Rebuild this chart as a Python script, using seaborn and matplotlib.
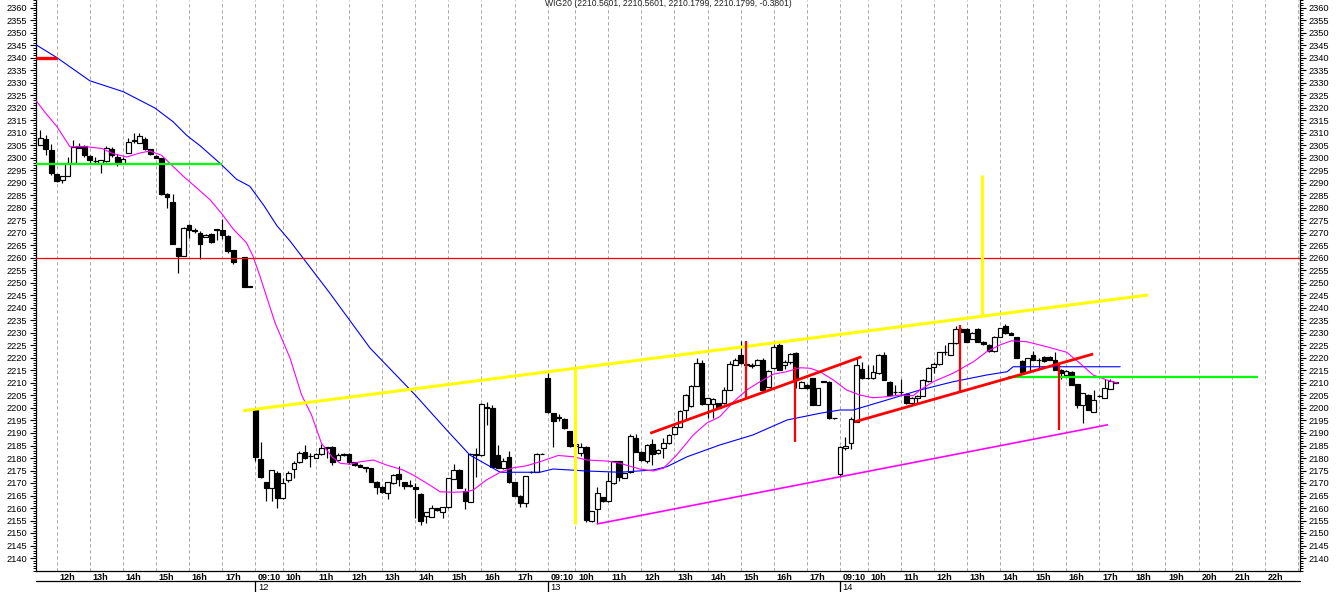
import numpy as np
import pandas as pd
import matplotlib
matplotlib.use("Agg")
import matplotlib.pyplot as plt
import matplotlib.transforms as mtransforms
from matplotlib.ticker import FixedLocator, MultipleLocator
import seaborn as sns

# --- data -----------------------------------------------------------------
# 10 minute bars, one session per day; the first visible bar of day 11 is 11:30
day_labels = ["11", "12", "13", "14"]
day_first_bar = ["11:30", "09:10", "09:10", "09:10"]

# rows: (open, high, low, close); nan = no bar drawn
d11_ohlc = [
    (2305.2, 2311.3, 2305.0, 2307.9), (2307.5, 2309.3, 2301.1, 2303.5), (2303.1, 2305.4, 2293.1, 2293.8),
    (2293.4, 2293.6, 2290.4, 2290.8), (2291.3, 2292.9, 2290.0, 2292.7), (2292.8, 2300.4, 2292.6, 2297.9),
    (2297.9, 2307.2, 2297.7, 2304.5), (2304.8, 2306.1, 2303.8, 2304.0), (2304.9, 2305.1, 2300.4, 2301.1),
    (2300.9, 2301.1, 2298.0, 2299.0), (2298.9, 2300.4, 2297.9, 2298.6), (2297.9, 2299.2, 2294.1, 2299.0),
    (2298.6, 2304.9, 2298.4, 2303.8), (2303.4, 2304.5, 2300.4, 2301.1), (2300.4, 2301.7, 2296.9, 2298.3),
    (2297.6, 2300.4, 2297.4, 2299.7), (2302.0, 2307.9, 2301.8, 2306.5), (2306.8, 2310.0, 2306.1, 2307.0),
    (2306.1, 2310.2, 2305.9, 2308.6), (2307.5, 2308.3, 2303.3, 2303.5), (2303.5, 2303.7, 2301.1, 2301.7),
    (2300.9, 2301.1, 2300.0, 2300.2), (2300.0, 2300.2, 2285.3, 2285.7), (2285.7, 2285.9, 2280.2, 2284.3),
    (2282.3, 2285.7, 2265.4, 2265.6), (2263.8, 2264.0, 2254.2, 2260.9), (2260.9, 2272.3, 2260.7, 2272.0),
    (2273.0, 2273.7, 2268.2, 2271.1), (2271.0, 2271.9, 2270.0, 2270.8), (2270.2, 2270.9, 2259.6, 2265.7),
    (2268.5, 2269.5, 2268.3, 2269.3), (2269.6, 2269.9, 2266.2, 2266.4), (2271.4, 2271.6, 2267.2, 2271.2),
    (2271.3, 2275.4, 2267.5, 2269.1), (2268.9, 2269.1, 2262.0, 2262.7), (2263.1, 2263.3, 2257.6, 2258.3),
    (np.nan, np.nan, np.nan, np.nan), (2260.4, 2260.6, 2248.4, 2248.6), (2248.6, 2248.8, 2248.4, 2248.5),
]
d12_ohlc = [
    (2199.0, 2200.0, 2179.0, 2180.5), (2179.6, 2186.5, 2172.0, 2172.5), (2170.3, 2170.5, 2162.8, 2167.9),
    (2167.9, 2175.2, 2162.8, 2175.2), (2173.9, 2175.0, 2159.9, 2163.9), (2163.9, 2171.9, 2163.5, 2169.9),
    (2171.2, 2175.0, 2170.5, 2173.9), (2175.6, 2179.0, 2171.9, 2177.9), (2178.3, 2183.0, 2178.0, 2181.9),
    (2182.5, 2185.2, 2179.5, 2179.9), (2180.9, 2181.9, 2176.5, 2180.7), (2180.1, 2181.8, 2179.8, 2181.5),
    (2181.5, 2185.6, 2181.3, 2183.9), (2184.1, 2184.5, 2180.0, 2184.3), (2184.5, 2184.8, 2177.3, 2178.5),
    (2179.2, 2182.0, 2179.0, 2181.2), (2181.2, 2182.0, 2180.8, 2181.6), (2181.5, 2181.8, 2177.6, 2178.5),
    (2178.3, 2178.5, 2177.0, 2177.3), (2177.2, 2177.4, 2176.3, 2176.5), (2176.4, 2176.6, 2174.5, 2176.1),
    (2175.9, 2176.2, 2170.3, 2170.5), (2170.5, 2170.8, 2165.5, 2168.5), (2168.5, 2168.8, 2166.2, 2166.5),
    (2165.9, 2170.5, 2163.6, 2170.3), (2169.9, 2173.4, 2169.7, 2173.2), (2173.6, 2176.7, 2169.0, 2171.5),
    (2170.3, 2170.6, 2167.5, 2168.9), (2169.0, 2171.2, 2168.5, 2169.2), (2168.3, 2169.9, 2155.9, 2167.6),
    (2165.6, 2166.0, 2153.1, 2154.8), (2156.9, 2158.4, 2153.9, 2158.2), (2156.5, 2161.2, 2156.3, 2159.9),
    (2159.9, 2160.2, 2158.8, 2159.2), (2158.3, 2160.5, 2156.0, 2160.3), (2160.3, 2172.1, 2160.0, 2171.9),
    (2171.6, 2177.6, 2171.4, 2175.2), (2175.2, 2175.5, 2167.8, 2168.1), (2166.9, 2168.0, 2159.5, 2162.8),
    (2162.5, 2181.8, 2162.3, 2181.5), (2181.2, 2183.9, 2172.5, 2181.4), (2181.2, 2202.0, 2181.0, 2201.5),
    (2200.1, 2202.5, 2193.2, 2200.3), (2199.9, 2201.0, 2176.3, 2176.5), (2181.2, 2185.2, 2175.9, 2176.1),
    (2175.9, 2180.0, 2175.7, 2178.8), (2180.5, 2183.0, 2170.1, 2170.3), (2170.3, 2170.6, 2164.7, 2164.9),
    (2164.9, 2165.2, 2160.5, 2161.9), (2161.9, 2173.0, 2160.5, 2172.9), (2174.3, 2174.7, 2174.2, 2174.5),
    (2174.5, 2181.8, 2174.3, 2181.6), (2181.6, 2181.8, 2181.4, 2181.6),
]
d13_ohlc = [
    (2212.1, 2213.9, 2198.0, 2198.3), (2197.9, 2198.0, 2184.5, 2194.8), (2196.3, 2197.5, 2194.8, 2196.1),
    (2195.6, 2196.0, 2191.5, 2191.9), (2190.8, 2191.0, 2184.5, 2184.9), (2185.0, 2186.5, 2183.5, 2185.5),
    (2181.9, 2185.9, 2180.9, 2184.5), (2184.5, 2184.7, 2154.5, 2155.2), (2154.8, 2159.0, 2154.5, 2158.8),
    (2159.6, 2168.5, 2153.9, 2165.9), (2164.3, 2164.5, 2162.5, 2162.9), (2162.8, 2174.5, 2162.5, 2170.9),
    (2169.9, 2179.0, 2169.7, 2178.8), (2178.8, 2179.0, 2171.0, 2172.5), (2172.1, 2174.2, 2171.9, 2173.9),
    (2174.3, 2189.5, 2174.1, 2188.9), (2188.1, 2189.5, 2182.3, 2182.5), (2182.5, 2182.8, 2178.9, 2179.2),
    (2178.9, 2185.4, 2177.9, 2185.2), (2185.5, 2187.6, 2177.2, 2181.5), (2181.9, 2183.5, 2181.7, 2183.2),
    (2183.9, 2187.9, 2179.9, 2185.9), (2185.9, 2189.4, 2185.7, 2189.2), (2189.5, 2193.2, 2189.3, 2192.5),
    (2192.5, 2199.0, 2192.3, 2198.8), (2199.2, 2205.4, 2195.0, 2205.2), (2200.9, 2209.1, 2200.5, 2208.9),
    (2208.9, 2219.9, 2208.7, 2217.9), (2217.9, 2219.2, 2201.3, 2201.5), (2201.5, 2204.1, 2196.1, 2203.9),
    (2201.5, 2203.8, 2196.1, 2203.6), (2201.9, 2202.1, 2199.9, 2200.1), (2201.9, 2208.5, 2201.7, 2207.2),
    (2207.2, 2218.8, 2207.0, 2217.5), (2217.2, 2219.9, 2217.0, 2219.2), (2221.2, 2226.8, 2217.7, 2217.9),
    (2217.5, 2218.5, 2216.0, 2217.2), (2216.9, 2218.2, 2215.9, 2217.1), (2217.2, 2219.5, 2217.0, 2219.2),
    (2219.2, 2220.0, 2207.0, 2207.2), (2208.5, 2215.0, 2208.3, 2214.8), (2215.9, 2225.5, 2215.7, 2224.5),
    (2225.2, 2226.0, 2215.0, 2215.2), (2217.0, 2219.0, 2215.5, 2218.5), (2218.5, 2222.0, 2217.5, 2221.5),
    (2221.9, 2222.5, 2208.0, 2211.2), (2208.1, 2210.8, 2207.9, 2210.5), (2209.2, 2209.5, 2207.7, 2207.9),
    (2211.9, 2212.1, 2201.0, 2201.2), (2201.2, 2208.1, 2201.0, 2207.9), (2210.5, 2210.7, 2210.3, 2210.5),
    (2210.5, 2210.7, 2195.7, 2195.9), (2195.9, 2196.1, 2195.7, 2195.9),
]
d14_ohlc = [
    (2173.5, 2185.0, 2172.5, 2184.5), (2183.9, 2188.5, 2183.2, 2184.8), (2185.9, 2196.5, 2183.5, 2195.6),
    (2194.5, 2220.0, 2194.3, 2217.2), (2215.6, 2218.5, 2211.7, 2211.9), (2211.9, 2217.2, 2211.7, 2212.1),
    (2211.9, 2217.0, 2211.7, 2214.3), (2213.9, 2221.5, 2213.7, 2221.2), (2221.2, 2222.5, 2211.0, 2211.2),
    (2210.5, 2210.8, 2205.0, 2205.2), (2206.3, 2209.2, 2205.2, 2206.3), (2206.3, 2211.6, 2205.2, 2206.5),
    (2205.6, 2205.8, 2201.5, 2201.9), (2202.1, 2204.4, 2201.9, 2204.2), (2203.9, 2205.0, 2201.5, 2204.8),
    (2204.9, 2211.4, 2204.7, 2211.2), (2210.8, 2216.3, 2210.6, 2216.1), (2216.5, 2218.5, 2214.0, 2217.5),
    (2217.5, 2222.5, 2217.3, 2222.3), (2222.3, 2225.0, 2221.0, 2222.5), (2221.2, 2226.1, 2221.0, 2225.9),
    (2225.9, 2232.8, 2225.7, 2231.6), (2231.6, 2232.0, 2230.3, 2230.5), (2231.6, 2231.8, 2226.3, 2226.5),
    (2227.7, 2230.4, 2227.5, 2230.2), (2231.6, 2231.8, 2226.3, 2226.5), (2226.5, 2226.7, 2225.3, 2225.5),
    (2225.2, 2225.4, 2222.6, 2222.8), (2222.8, 2228.7, 2222.6, 2228.5), (2228.5, 2232.1, 2228.3, 2231.9),
    (2232.9, 2233.5, 2229.7, 2229.9), (2230.2, 2230.4, 2229.0, 2229.2), (2228.3, 2228.5, 2219.9, 2220.1),
    (2218.8, 2219.0, 2214.3, 2214.5), (2214.5, 2220.1, 2214.3, 2219.9), (2221.2, 2222.8, 2219.0, 2219.2),
    (2219.2, 2219.9, 2215.5, 2219.1), (2220.5, 2220.7, 2218.6, 2218.8), (2220.5, 2220.7, 2219.0, 2219.2),
    (2219.2, 2222.5, 2215.0, 2215.2), (2215.2, 2215.4, 2211.5, 2213.9), (2213.2, 2215.1, 2213.0, 2214.9),
    (2214.5, 2214.7, 2209.0, 2209.2), (2209.5, 2209.7, 2199.9, 2201.2), (2201.2, 2206.1, 2193.9, 2205.9),
    (2205.2, 2205.4, 2199.0, 2199.2), (2198.5, 2207.0, 2198.3, 2203.2), (2204.8, 2205.2, 2204.6, 2204.9),
    (2204.1, 2211.5, 2203.9, 2207.9), (2207.6, 2211.5, 2207.4, 2210.8), (2210.5601, 2210.5601, 2210.1799, 2210.1799),
]

# moving averages (bar position, value)
blue_ma_bar = [-3.75, 0, 6.0, 12.1, 17.8, 21.1, 23.6, 26.0, 29.6, 32.6, 35.0, 37.5, 39.9, 42.3, 49.5, 56.8,
               65.0, 70.7, 74.9, 80.4, 87.6, 90.0, 96.1, 102.1, 108.1, 110.6, 114.3, 120.2, 126.2, 132.4,
               138.4, 142.0, 144.4, 150.5, 156.5, 162.5, 168.6, 172.3, 173.4, 192.8]
blue_ma_val = [2345.3, 2340.2, 2330.9, 2326.5, 2320.0, 2314.5, 2309.0, 2304.9, 2297.9, 2291.5, 2288.7, 2281.2,
               2273.0, 2266.8, 2246.0, 2224.0, 2205.2, 2191.2, 2181.2, 2174.3, 2174.3, 2175.6, 2174.8, 2174.3,
               2175.2, 2176.5, 2180.5, 2185.2, 2189.2, 2195.2, 2197.9, 2199.2, 2199.2, 2203.2, 2207.2, 2210.5,
               2213.2, 2214.5, 2216.5, 2216.5]
magenta_ma_bar = [-3.75, -2.1, 0, 2.4, 5.4, 8.2, 10.3, 12.7, 15.1, 16.9, 19.0, 20.5, 22.9, 25.4, 27.8, 29.9,
                  32.0, 34.4, 35.6, 36.9, 38.1, 39.6, 42.3, 44.4, 46.2, 48.0, 49.9, 51.4, 53.2, 55.0, 57.4,
                  59.8, 62.8, 64.6, 67.1, 69.5, 71.9, 74.3, 75.5, 77.9, 80.4, 82.8, 85.2, 87.6, 90.9, 93.7,
                  96.1, 99.7, 102.1, 105.7, 108.2, 110.0, 112.4, 115.4, 117.8, 120.2, 122.7, 125.1, 127.5,
                  129.9, 132.3, 134.8, 136.6, 138.4, 140.8, 143.2, 145.6, 148.0, 150.5, 152.9, 155.3, 156.5,
                  158.9, 162.5, 166.2, 168.6, 171.0, 173.1, 175.9, 179.5, 183.1, 185.5, 187.9, 190.4, 192.4]
magenta_ma_val = [2323.0, 2318.2, 2312.7, 2304.5, 2304.5, 2303.8, 2301.7, 2300.4, 2302.0, 2302.8, 2301.1,
                  2297.9, 2292.8, 2288.0, 2283.3, 2277.8, 2271.6, 2266.1, 2260.7, 2252.4, 2244.2, 2234.0,
                  2220.0, 2205.2, 2197.2, 2185.9, 2180.5, 2177.9, 2177.5, 2178.5, 2179.2, 2177.2, 2175.2,
                  2173.2, 2169.9, 2166.5, 2166.3, 2166.5, 2167.2, 2171.2, 2174.3, 2176.1, 2176.9, 2178.5,
                  2181.0, 2180.5, 2179.2, 2178.8, 2177.9, 2175.6, 2174.8, 2175.9, 2181.2, 2189.2, 2193.9,
                  2196.5, 2202.5, 2207.2, 2210.5, 2213.5, 2214.5, 2216.1, 2215.9, 2214.5, 2211.2, 2207.2,
                  2205.2, 2204.1, 2204.5, 2205.2, 2204.9, 2207.2, 2210.5, 2213.9, 2218.5, 2222.5, 2225.2,
                  2226.9, 2226.5, 2224.5, 2222.3, 2217.9, 2213.2, 2211.2, 2209.9]

# hand drawn studies: (bar0, value0, bar1, value1)
yellow_lines = [(33.8, 2198.9, 197.9, 2245.2), (94.0, 2215.5, 94.0, 2153.6), (167.8, 2236.7, 167.8, 2293.0)]
red_channels = [(107.6, 2189.9, 145.9, 2220.5), (144.7, 2194.5, 187.9, 2221.6)]
red_ticks = [(124.9, 2226.8, 124.9, 2203.6), (133.8, 2216.5, 133.8, 2186.3),
             (163.8, 2233.2, 163.8, 2206.3), (181.7, 2217.5, 181.7, 2191.2)]
magenta_channel = [(97.9, 2153.6, 190.6, 2193.3)]
green_levels = [(-3.75, 2297.5, 30.0, 2297.5), (172.5, 2212.5, 217.8, 2212.5)]
red_marker = [(-3.75, 2340.0, 0.0, 2340.0)]
red_level = 2260.0

title_text = "WIG20 (2210.5601, 2210.5601, 2210.1799, 2210.1799, -0.3801)"


def to_slot(day_idx, hhmm):
    # every session holds 53 ten-minute slots starting at 09:10; 12h of day 11 is slot 0
    h, m = map(int, hhmm.split(":"))
    return 53 * day_idx - 17 + (h * 60 + m - 550) / 10.0


def build_bars():
    frames = []
    for d, rows in enumerate([d11_ohlc, d12_ohlc, d13_ohlc, d14_ohlc]):
        start = to_slot(d, day_first_bar[d])
        df = pd.DataFrame(rows, columns=["open", "high", "low", "close"])
        df["slot"] = start + np.arange(len(df))
        frames.append(df)
    return pd.concat(frames, ignore_index=True).dropna()


def main():
    bars = build_bars()

    sns.set_theme(style="white")
    plt.rcParams["font.family"] = ["Liberation Sans", "DejaVu Sans"]

    W, H = 1336, 592
    fig = plt.figure(figsize=(W / 100, H / 100), dpi=100)
    ax = fig.add_axes([36 / W, 21.3 / H, (1300 - 36) / W, 570.7 / H])

    x_lo, x_hi = -3.75, 225.4
    ax.set_xlim(x_lo, x_hi)
    ax.set_ylim(2360 - 562.7 / 2.5, 2360 + 8 / 2.5)

    # hour ticks
    tick_slots, tick_texts = [], []
    for d in range(len(day_labels)):
        tick_slots.append(to_slot(d, "09:10"))
        tick_texts.append("09:10")
        last_hour = 17 if d < len(day_labels) - 1 else 23
        for hr in range(10, last_hour + 1):
            tick_slots.append(to_slot(d, f"{hr}:00"))
            tick_texts.append(f"{hr}h")
    keep = [(s, t) for s, t in zip(tick_slots, tick_texts) if x_lo <= s <= x_hi]
    ax.set_xticks([s for s, _ in keep])
    ax.set_xticklabels([t for _, t in keep], fontsize=6.5, fontweight="bold")
    ax.tick_params(axis="x", direction="out", length=7.7, width=0.9, pad=-6.3, colors="black")
    offset = mtransforms.ScaledTranslation(2 / 72, 0, fig.dpi_scale_trans)
    clip = mtransforms.TransformedBbox(mtransforms.Bbox([[0, -1], [1, 1]]), ax.transAxes)
    for lbl in ax.get_xticklabels():
        lbl.set_horizontalalignment("left")
        lbl.set_transform(lbl.get_transform() + offset)
        lbl.set_clip_box(clip)
        lbl.set_clip_on(True)
    ax.grid(axis="x", color="#a9a9a9", linestyle=(0, (3.3, 2.7)), linewidth=0.72)
    ax.set_axisbelow(True)

    # price axis on both sides
    ax.yaxis.set_major_locator(FixedLocator(np.arange(2140, 2361, 5)))
    ax.yaxis.set_minor_locator(MultipleLocator(1))
    ax.tick_params(axis="y", which="both", left=True, right=True, labelleft=True, labelright=True,
                   direction="out", colors="black", labelsize=6.7)
    ax.tick_params(axis="y", which="major", length=4.3, width=0.8, pad=2)
    ax.tick_params(axis="y", which="minor", length=2.3, width=0.7)
    for side in ["left", "right", "bottom"]:
        ax.spines[side].set_color("black")
        ax.spines[side].set_linewidth(0.9)
    ax.spines["top"].set_visible(False)

    # date row under the hour row
    row_y0 = -10.6 / 570.7
    row_y1 = -21.3 / 570.7
    ax.plot([0, 1], [row_y0, row_y0], transform=ax.transAxes, color="black", lw=0.9, clip_on=False)
    xt = ax.get_xaxis_transform()
    for d, lab in enumerate(day_labels):
        s = to_slot(d, "09:10")
        if x_lo <= s <= x_hi:
            ax.plot([s, s], [row_y0, row_y1], transform=xt, color="black", lw=0.9, clip_on=False)
            ax.text(s, row_y0 - 1.2 / 570.7, lab, transform=xt + offset, ha="left", va="top",
                    fontsize=6.7, color="black", clip_on=False)

    # candles
    up = bars["close"] >= bars["open"]
    ax.vlines(bars["slot"], bars["low"], bars["high"], color="black", lw=0.85, zorder=3)
    body_lo = np.minimum(bars["open"], bars["close"])
    body_h = np.maximum((bars["close"] - bars["open"]).abs(), 0.12)
    ax.bar(bars["slot"], body_h, bottom=body_lo, width=0.86,
           color=np.where(up, "white", "black"), edgecolor="black", linewidth=0.85, zorder=4)

    # moving averages
    blue_df = pd.DataFrame({"bar": blue_ma_bar, "value": blue_ma_val})
    mag_df = pd.DataFrame({"bar": magenta_ma_bar, "value": magenta_ma_val})
    sns.lineplot(data=blue_df, x="bar", y="value", color="#0000ff", lw=0.8, estimator=None,
                 sort=False, ax=ax, zorder=5)
    sns.lineplot(data=mag_df, x="bar", y="value", color="#ff00ff", lw=0.8, estimator=None,
                 sort=False, ax=ax, zorder=5)
    ax.set_xlabel("")
    ax.set_ylabel("")

    # hand drawn studies
    ax.axhline(red_level, color="#ff0000", lw=0.9, zorder=6)

    def draw(segs, color, lw):
        for x0, y0, x1, y1 in segs:
            ax.plot([x0, x1], [y0, y1], color=color, lw=lw, solid_capstyle="butt", zorder=6)

    draw(green_levels, "#00ff00", 1.6)
    draw(red_marker, "#ff0000", 2.4)
    draw(magenta_channel, "#ff00ff", 1.2)
    draw(yellow_lines, "#ffff00", 2.2)
    draw(red_channels, "#ff0000", 2.0)
    draw(red_ticks, "#ff0000", 1.6)

    ax.text(0.5, 1 - 4 / 570.7, title_text, transform=ax.transAxes, ha="center", va="center",
            fontsize=6.2, color="#222222")

    fig.savefig("out.png", dpi=100)


if __name__ == "__main__":
    main()
